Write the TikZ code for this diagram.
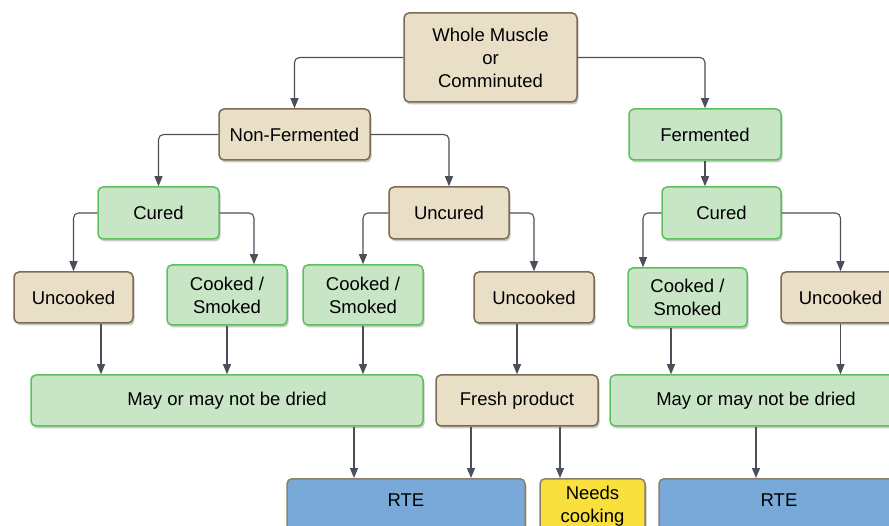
\documentclass[tikz,border=0pt]{standalone}
\usepackage{fontspec}
\setmainfont{Liberation Sans}
\usetikzlibrary{arrows.meta,shadows,calc}
\definecolor{tanfill}{HTML}{E8DFC6}
\definecolor{tanline}{HTML}{7D6B50}
\definecolor{grnfill}{HTML}{C8E5C6}
\definecolor{grnline}{HTML}{5CC15A}
\definecolor{bluefill}{HTML}{78A9D9}
\definecolor{bluline}{HTML}{8A7F6C}
\definecolor{yelfill}{HTML}{F9E03D}
\definecolor{arrcol}{HTML}{4A4F5A}
\tikzset{
  box/.style={rectangle, rounded corners=5pt, line width=1.5pt, align=center,
    font=\fontsize{18.5}{23}\selectfont, inner sep=0pt,
    drop shadow={shadow xshift=1.5pt, shadow yshift=-2.5pt, opacity=0.35, fill=black!60}},
  tanbox/.style={box, fill=tanfill, draw=tanline},
  greenbox/.style={box, fill=grnfill, draw=grnline},
  bluebox/.style={box, fill=bluefill, draw=bluline},
  yellowbox/.style={box, fill=yelfill, draw=bluline},
  txt/.style={align=center, font=\fontsize{18.5}{23}\selectfont, inner sep=0pt},
  arr/.style={draw=arrcol, line width=1.1pt, rounded corners=5pt,
    -{Triangle[length=10pt,width=8pt]}, fill=none}
}
\begin{document}
\begin{tikzpicture}[x=1pt,y=-1pt]
\useasboundingbox (0,0) rectangle (889,526);
\clip (0,0) rectangle (889,526);
% level 0
\node[tanbox, minimum width=173pt, minimum height=89pt] (whole) at (490.5,57.5) {Whole Muscle\\or\\Comminuted};
% level 1
\node[tanbox, minimum width=151pt, minimum height=51pt] (nonf) at (294.5,134.5) {Non-Fermented};
\node[greenbox, minimum width=152pt, minimum height=51pt] (ferm) at (705,134.5) {Fermented};
% level 2
\node[greenbox, minimum width=121pt, minimum height=52pt] (curedL) at (158.5,213) {Cured};
\node[tanbox, minimum width=120pt, minimum height=52pt] (uncured) at (449,213) {Uncured};
\node[greenbox, minimum width=119pt, minimum height=52pt] (curedR) at (721.5,213) {Cured};
% level 3
\node[tanbox, minimum width=119pt, minimum height=51pt] (unc1) at (73.5,297.5) {Uncooked};
\node[greenbox, minimum width=120pt, minimum height=60pt] (cook1) at (227,295) {Cooked /\\Smoked};
\node[greenbox, minimum width=120pt, minimum height=60pt] (cook2) at (363,295) {Cooked /\\Smoked};
\node[tanbox, minimum width=120pt, minimum height=51pt] (unc2) at (534,297.5) {Uncooked};
\node[greenbox, minimum width=119pt, minimum height=59pt] (cook3) at (687.5,297.5) {Cooked /\\Smoked};
\node[tanbox, minimum width=119pt, minimum height=51pt] (unc3) at (840.5,297.5) {Uncooked};
% level 4
\node[greenbox, minimum width=392pt, minimum height=51pt] (mayL) at (227,400.5) {May or may not be dried};
\node[tanbox, minimum width=162pt, minimum height=51pt] (fresh) at (517,400.5) {Fresh product};
\node[greenbox, minimum width=292pt, minimum height=51pt] (mayR) at (756,400.5) {May or may not be dried};
% level 5
\node[bluebox, minimum width=238pt, minimum height=80pt, anchor=north] (rteL) at (406,478) {};
\node[txt] (rteLt) at (406,500) {RTE};
\node[yellowbox, minimum width=105pt, minimum height=80pt, anchor=north] (needs) at (592.5,478) {};
\node[txt] (needst) at (592.5,506.5) {Needs\\cooking};
\node[bluebox, minimum width=240pt, minimum height=80pt, anchor=north] (rteR) at (779,478) {};
\node[txt] (rteRt) at (779,500) {RTE};
% connectors
\draw[arr] (whole.west) -| (nonf.north);
\draw[arr] (whole.east) -| (ferm.north);
\draw[arr] (nonf.west) -| (curedL.north);
\draw[arr] (nonf.east) -| (uncured.north);
\draw[arr] (ferm.south) -- (ferm.south |- curedR.north);
\draw[arr] (curedL.west) -| (unc1.north);
\draw[arr] (curedL.east) -| ([xshift=27pt]cook1.north);
\draw[arr] (uncured.west) -| (cook2.north);
\draw[arr] (uncured.east) -| (unc2.north);
\draw[arr] (curedR.west) -| ([xshift=-44.5pt]cook3.north);
\draw[arr] (curedR.east) -| (unc3.north);
\draw[arr] ([xshift=27.5pt]unc1.south) -- ([xshift=27.5pt]unc1.south |- mayL.north);
\draw[arr] (cook1.south) -- (cook1.south |- mayL.north);
\draw[arr] (cook2.south) -- (cook2.south |- mayL.north);
\draw[arr] ([xshift=-17pt]unc2.south) -- ([xshift=-17pt]unc2.south |- fresh.north);
\draw[arr] ([xshift=-16.5pt]cook3.south) -- ([xshift=-16.5pt]cook3.south |- mayR.north);
\draw[arr] (unc3.south) -- (unc3.south |- mayR.north);
\draw[arr] ([xshift=127pt]mayL.south) -- ([xshift=127pt]mayL.south |- rteL.north);
\draw[arr] ([xshift=-46pt]fresh.south) -- ([xshift=-46pt]fresh.south |- rteL.north);
\draw[arr] ([xshift=43pt]fresh.south) -- ([xshift=43pt]fresh.south |- needs.north);
\draw[arr] (mayR.south) -- (mayR.south |- rteR.north);
\end{tikzpicture}
\end{document}
